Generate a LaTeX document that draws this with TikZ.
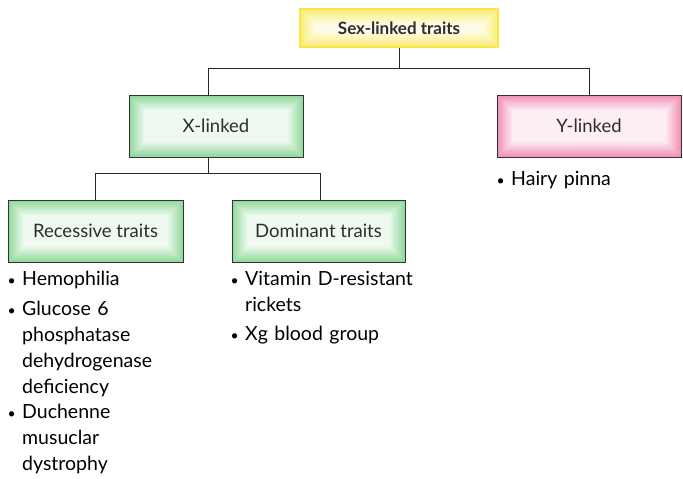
\documentclass[tikz,border=0pt]{standalone}
\usepackage{fontspec}
\setmainfont{Lato}
\usetikzlibrary{positioning}

\definecolor{grnedge}{RGB}{140,214,152}
\definecolor{pnkedge}{RGB}{240,140,178}
\definecolor{ylwedge}{RGB}{250,236,110}
\definecolor{ylwline}{RGB}{246,230,70}
\definecolor{boxtxt}{RGB}{45,45,45}

\tikzset{glow/.style={path picture={
           \foreach \k in {0,...,10}{
             \pgfmathsetmacro\pc{95-8*\k}
             \fill[#1!\pc!white] ([shift={(\k*1.5pt,-\k*1.5pt)}]path picture bounding box.north west)
               rectangle ([shift={(-\k*1.5pt,\k*1.5pt)}]path picture bounding box.south east);}}},
         trbox/.style={draw=black!80,line width=0.9pt,minimum width=174pt,minimum height=62pt,
                       font=\fontsize{18.5}{22}\selectfont,text=boxtxt,glow=#1},
         conn/.style={draw=black!85,line width=0.9pt},
         item/.style={anchor=base west,inner sep=0pt,text width=180pt,align=left,
                      font=\fontsize{19.5}{26}\selectfont},
         itembul/.style={anchor=base east,inner sep=0pt,font=\fontsize{14}{26}\selectfont}}

\begin{document}
\begin{tikzpicture}[x=1pt,y=-1pt]
    \useasboundingbox (0,0) rectangle (683,479);
    % boxes
    \node[trbox=ylwedge,draw=ylwline,line width=2pt,minimum width=198pt,minimum height=38pt,
          font=\fontsize{17}{20}\selectfont\bfseries] (sex) at (399,28) {Sex-linked traits};
    \node[trbox=grnedge] (xl) at (216,126) {X-linked};
    \node[trbox=pnkedge,minimum width=184pt] (yl) at (589,126) {Y-linked};
    \node[trbox=grnedge,minimum width=175pt] (rec) at (95.5,231) {Recessive traits};
    \node[trbox=grnedge,minimum width=173pt] (dom) at (318.5,231) {Dominant traits};
    % connectors
    \draw[conn] (sex.south) -- ++(0,20) -| ([xshift=-8pt]xl.north);
    \draw[conn] (sex.south) -- ++(0,20) -| (yl.north);
    \draw[conn] ([xshift=-8pt]xl.south) -- ++(0,16) -| (rec.north);
    \draw[conn] ([xshift=-8pt]xl.south) -- ++(0,16) -| ([xshift=1.5pt]dom.north);
    % lists
    \foreach \n/\x/\y/\t in {hem/22/285/Hemophilia,
                             glu/22/315/{Glucose 6\\phosphatase\\dehydrogenase\\deficiency},
                             duc/22/418/{Duchenne\\musuclar\\dystrophy},
                             vit/245/285/{Vitamin D-resistant\\rickets},
                             xg/245/340/Xg blood group,
                             hai/511/185/Hairy pinna}
      {\node[item] (\n) at (\x,\y) {\t}; \node[left=6pt of \n.base west,itembul] {\textbullet};}
  \end{tikzpicture}
\end{document}
